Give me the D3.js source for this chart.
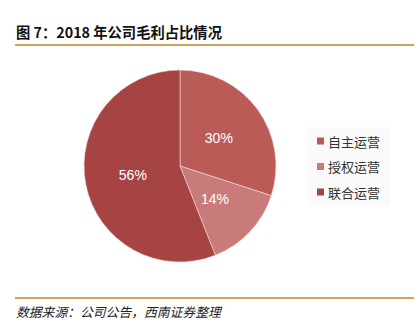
<!DOCTYPE html>
<html>
<head>
<meta charset="utf-8">
<script src="https://cdn.jsdelivr.net/npm/d3@7"></script>
<style>
  html, body { margin: 0; padding: 0; background: #fff; }
  svg { display: block; }
</style>
</head>
<body>
<svg id="chart" width="419" height="333"></svg>
<script>
// 2018 gross profit share by business line
const categories = ["自主运营", "授权运营", "联合运营"];
const shares = [30, 14, 56];
const colors = ["#bb5b58", "#c97b7a", "#a54442"];

const svg = d3.select("#chart");

// Title and rules
svg.append("text")
  .attr("x", 16).attr("y", 38)
  .attr("font-family", "'Noto Sans CJK SC', sans-serif")
  .attr("font-weight", "bold")
  .attr("font-size", 14.3)
  .attr("fill", "#111")
  .text("图 7：2018 年公司毛利占比情况");

svg.append("line")
  .attr("x1", 15).attr("x2", 414).attr("y1", 45).attr("y2", 45)
  .attr("stroke", "#cfa060").attr("stroke-width", 2);

svg.append("line")
  .attr("x1", 15).attr("x2", 414).attr("y1", 298).attr("y2", 298)
  .attr("stroke", "#cfa060").attr("stroke-width", 2);

svg.append("text")
  .attr("x", 16).attr("y", 317)
  .attr("font-family", "'Noto Sans CJK SC', sans-serif")
  .attr("font-style", "italic")
  .attr("font-size", 12.8)
  .attr("fill", "#222")
  .text("数据来源：公司公告，西南证券整理");

// Pie
const cx = 180, cy = 166, R = 96;
const pie = d3.pie().sort(null).value(d => d.value);
const arcs = pie(categories.map((c, i) => ({ name: c, value: shares[i], color: colors[i] })));
const arc = d3.arc().innerRadius(0).outerRadius(R);
const labelArc = d3.arc().innerRadius(R * 0.5).outerRadius(R * 0.5);

const g = svg.append("g").attr("transform", `translate(${cx},${cy})`);
g.selectAll("path.slice")
  .data(arcs)
  .join("path")
  .attr("class", "slice")
  .attr("d", arc)
  .attr("fill", d => d.data.color)
  .attr("stroke", "#f2dcdc")
  .attr("stroke-width", 0.6);

g.selectAll("text.pct")
  .data(arcs)
  .join("text")
  .attr("class", "pct")
  .attr("transform", d => `translate(${labelArc.centroid(d)})`)
  .attr("text-anchor", "middle")
  .attr("dominant-baseline", "central")
  .attr("font-family", "'Liberation Sans', Arial, sans-serif")
  .attr("font-size", 14)
  .attr("fill", "#fff")
  .text(d => d.data.value + "%");

// Legend
const legend = svg.append("g");
legend.append("rect")
  .attr("x", 308).attr("y", 127).attr("width", 82).attr("height", 78)
  .attr("fill", "#fafafa");

const rows = legend.selectAll("g.item")
  .data(arcs)
  .join("g")
  .attr("class", "item")
  .attr("transform", (d, i) => `translate(317, ${141 + i * 25.5})`);

rows.append("rect")
  .attr("x", 0).attr("y", -3.5).attr("width", 7).attr("height", 7)
  .attr("fill", d => d.data.color);

rows.append("text")
  .attr("x", 11).attr("y", 0)
  .attr("dominant-baseline", "central")
  .attr("font-family", "'Noto Sans CJK SC', sans-serif")
  .attr("font-size", 13)
  .attr("fill", "#333")
  .text(d => d.data.name);
</script>
</body>
</html>
